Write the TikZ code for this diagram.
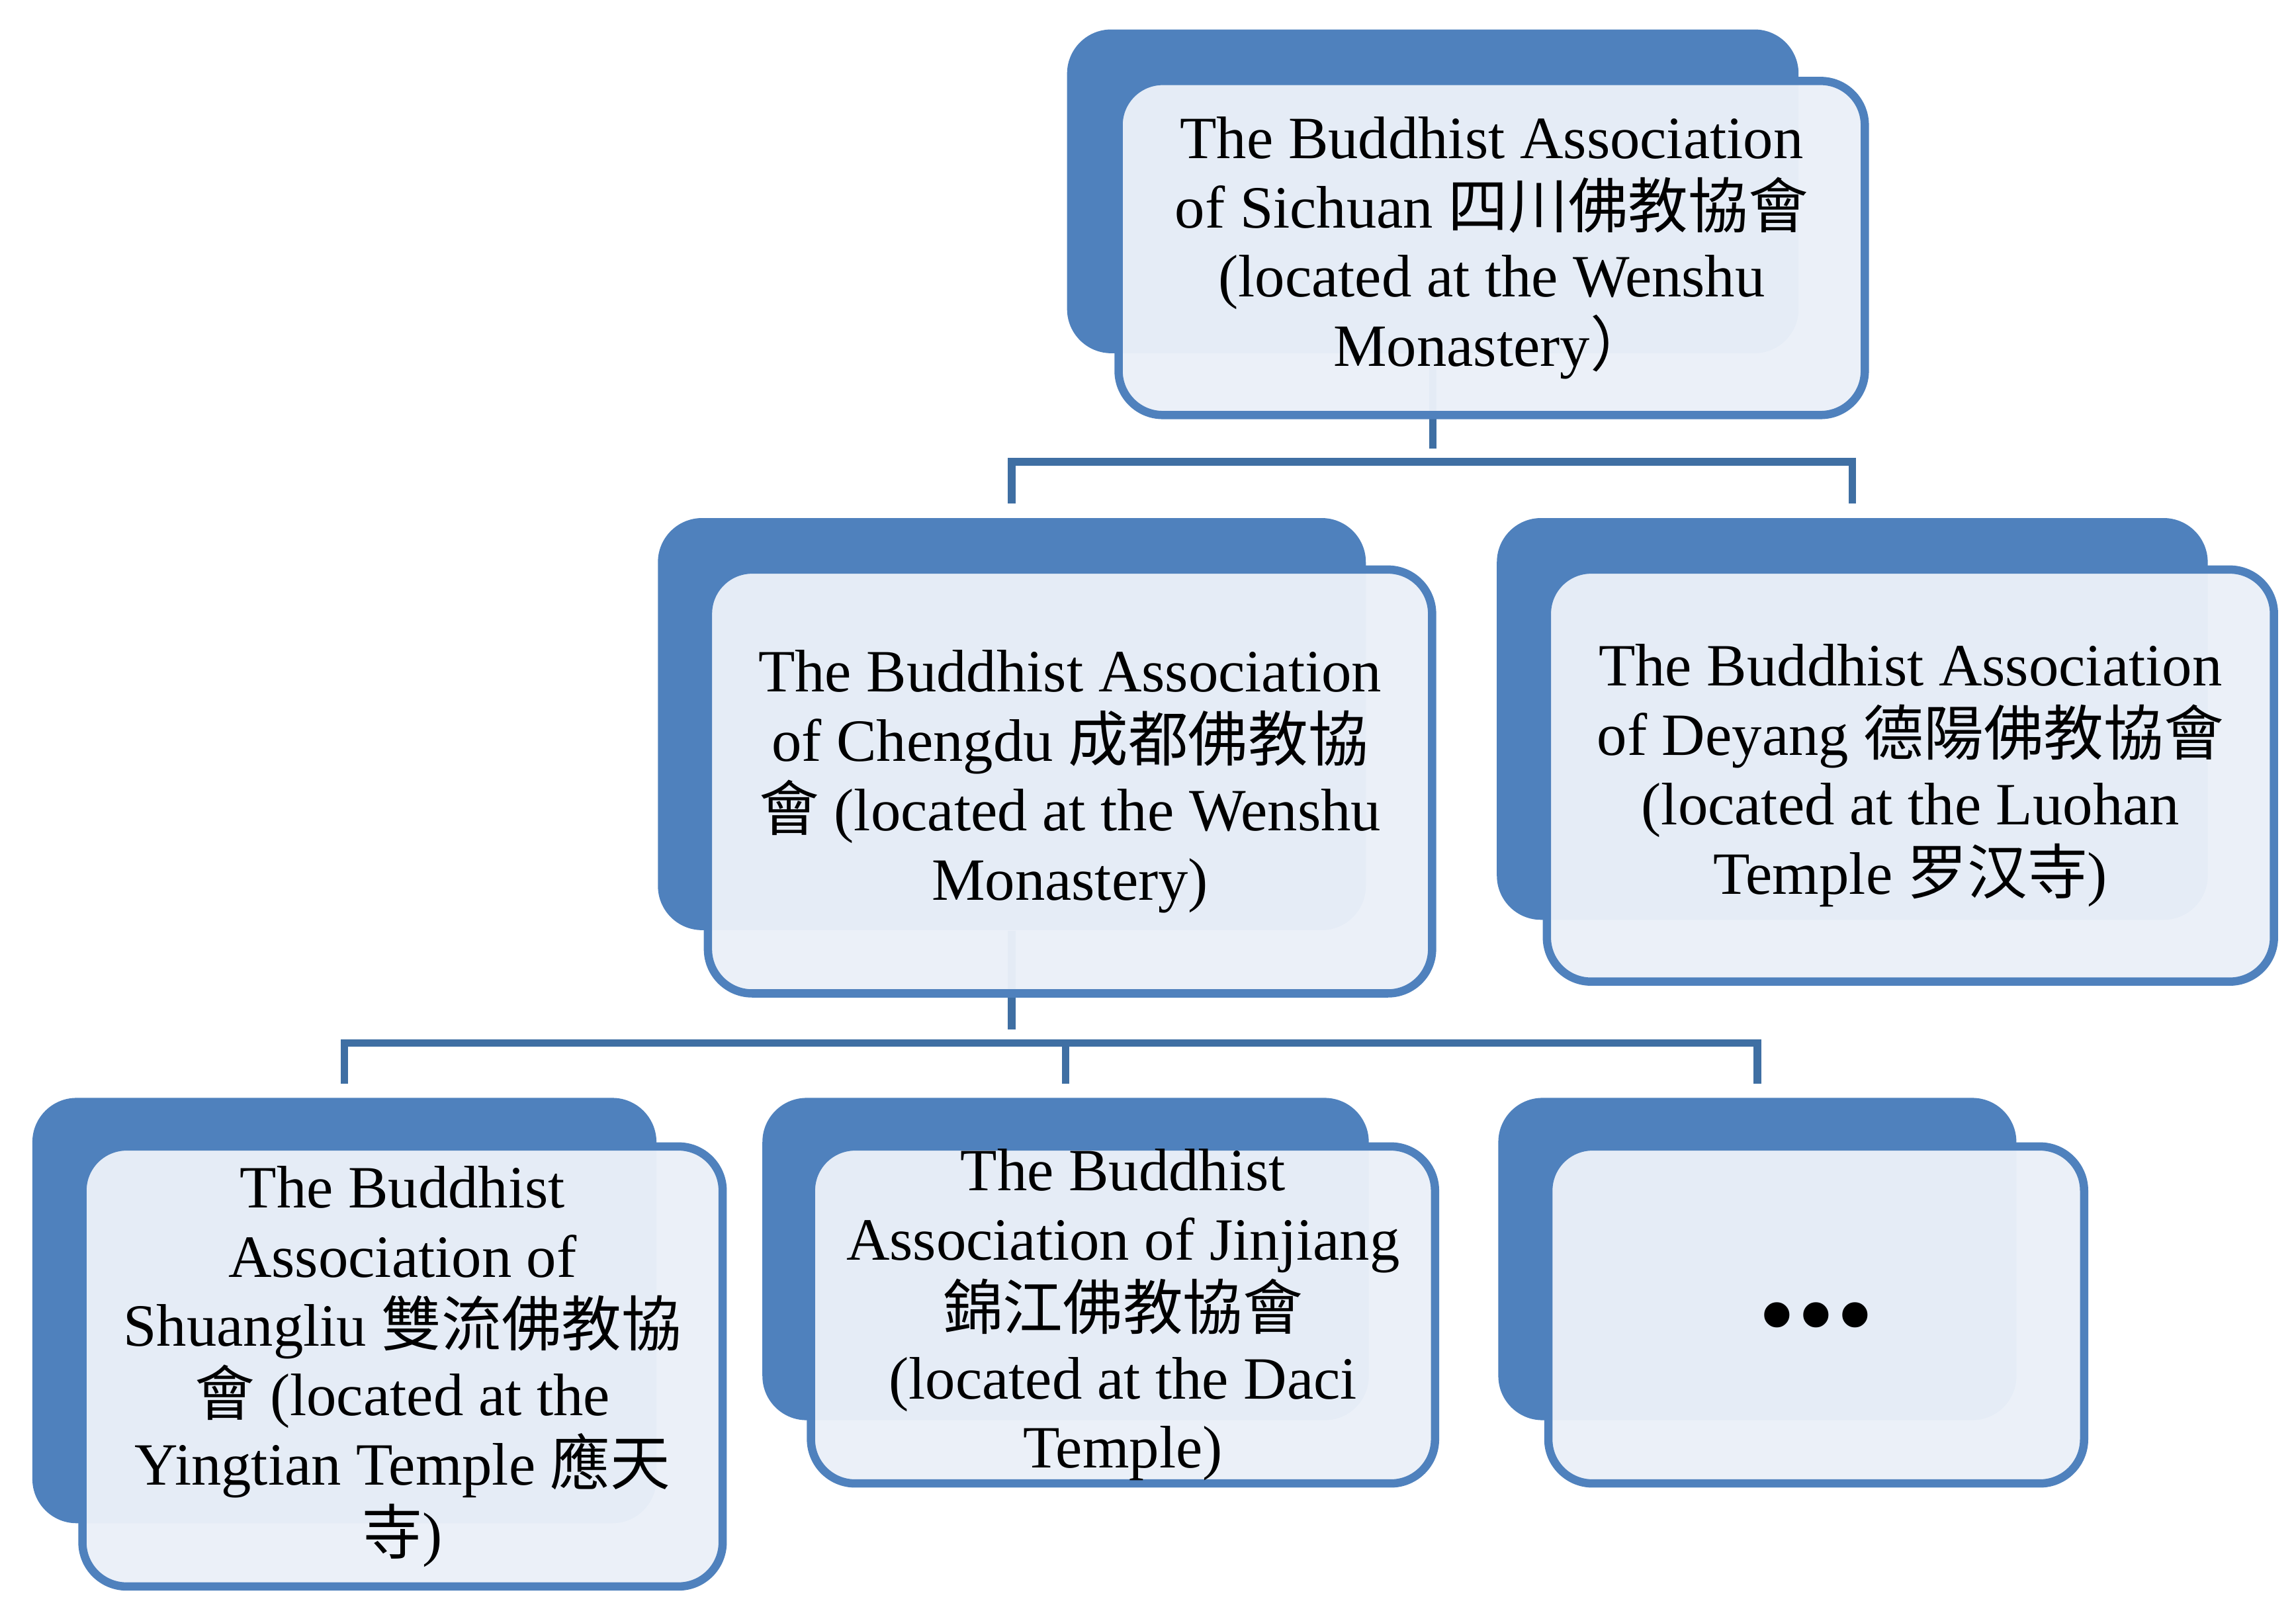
\documentclass[tikz,border=0pt]{standalone}
\usepackage{fontspec}
\setmainfont{Liberation Serif}
\newfontfamily\cjk{Noto Sans CJK TC}
\usetikzlibrary{positioning}
\definecolor{backblue}{HTML}{4F81BD}
\definecolor{frontfill}{HTML}{EAF0F8}
\definecolor{linkblue}{HTML}{3F6FA3}
\tikzset{
    %back card
    back/.style={
           rectangle, rounded corners=0.3cm,
           fill=backblue, draw=none},
    %front card with text
    front/.style={
           rectangle, rounded corners=0.3cm,
           draw=backblue, line width=1.6pt,
           fill=frontfill, fill opacity=0.97, text opacity=1,
           align=center,
           font=\fontsize{11.6}{13.4}\selectfont},
    % connector style
    link/.style={
           draw=linkblue, line width=1.5pt,
           shorten >=0.9mm}
}
\begin{document}
\begin{tikzpicture}
\useasboundingbox (0,0) rectangle (15.6,-10.96);

%back cards
\node[back, minimum width=4.97cm, minimum height=2.2cm] (topB) at (9.735,-1.30) {};
\node[back, minimum width=4.81cm, minimum height=2.8cm] (chengduB) at (6.875,-4.92) {};
\node[back, minimum width=4.83cm, minimum height=2.73cm] (deyangB) at (12.585,-4.885) {};
\node[back, minimum width=4.24cm, minimum height=2.89cm] (shuangliuB) at (2.34,-8.905) {};
\node[back, minimum width=4.12cm, minimum height=2.19cm] (jinjiangB) at (7.24,-8.555) {};
\node[back, minimum width=3.52cm, minimum height=2.19cm] (moreB) at (11.94,-8.555) {};

%connectors
\draw[link] (topB.south) -- ++(0,-0.73) coordinate (j1);
\draw[link] (j1) -| (chengduB.north);
\draw[link] (j1) -| (deyangB.north);
\draw[link] (chengduB.south) -- ++(0,-0.76) coordinate (j2);
\draw[link] (j2) -| (shuangliuB.north);
\draw[link] (j2) -| (jinjiangB.north);
\draw[link] (j2) -| (moreB.north);

%front cards
\node[front, minimum width=5.07cm, minimum height=2.27cm] (top) at (10.135,-1.685)
    {The Buddhist Association\\ of Sichuan {\cjk 四川佛教協會}\\ (located at the Wenshu\\ Monastery{\cjk ）}};
\node[front, minimum width=4.92cm, minimum height=2.88cm] (chengdu) at (7.27,-5.31)
    {The Buddhist Association\\ of Chengdu {\cjk 成都佛教協}\\ {\cjk 會} (located at the Wenshu\\ Monastery)};
\node[front, minimum width=4.94cm, minimum height=2.8cm] (deyang) at (12.98,-5.27)
    {The Buddhist Association\\ of Deyang {\cjk 德陽佛教協會}\\ (located at the Luohan\\ Temple {\cjk 罗汉寺})};
\node[front, minimum width=4.35cm, minimum height=2.99cm] (shuangliu) at (2.735,-9.285)
    {The Buddhist\\ Association of\\ Shuangliu {\cjk 雙流佛教協}\\ {\cjk 會} (located at the\\ Yingtian Temple {\cjk 應天}\\ {\cjk 寺})};
\node[front, minimum width=4.24cm, minimum height=2.29cm, inner ysep=0pt] (jinjiang) at (7.63,-8.935)
    {The Buddhist\\ Association of Jinjiang\\ {\cjk 錦江佛教協會}\\ (located at the Daci\\ Temple)};
\node[front, minimum width=3.64cm, minimum height=2.29cm, font=\fontsize{30}{30}\selectfont\bfseries] (more) at (12.34,-8.935)
    {...};
\end{tikzpicture}
\end{document}
